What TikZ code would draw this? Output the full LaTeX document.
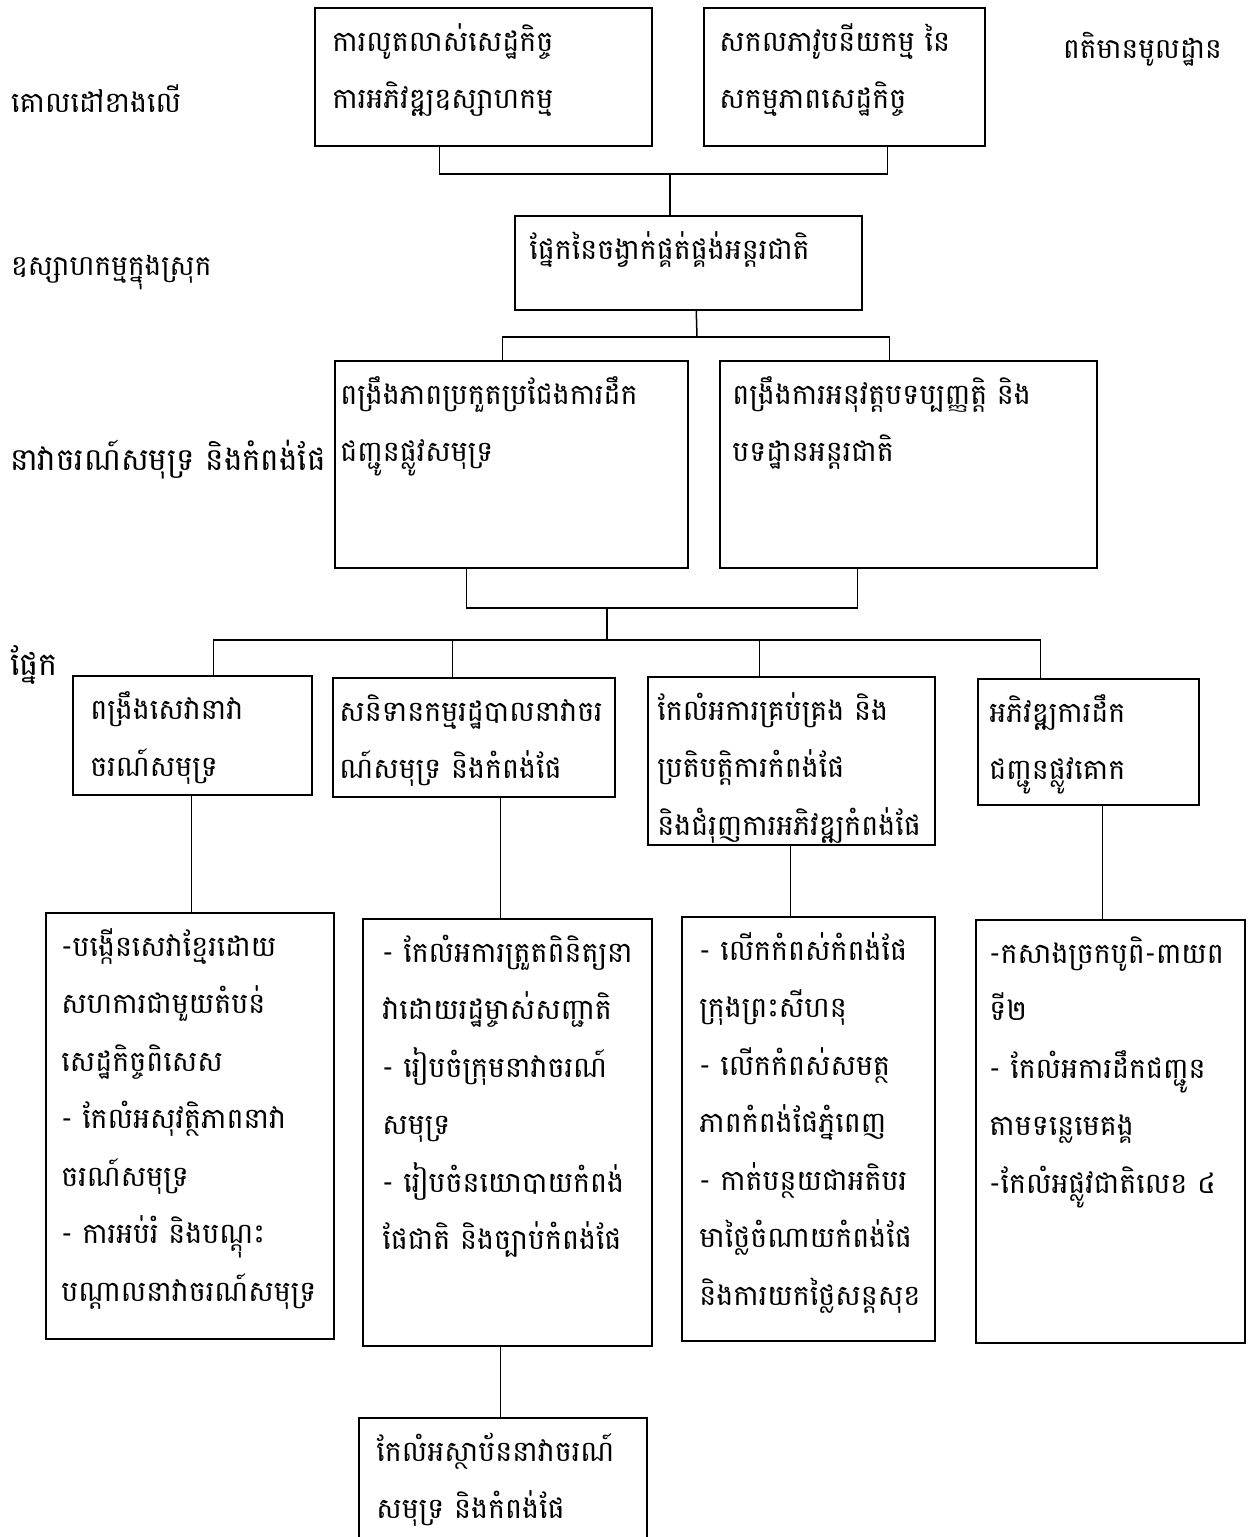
\documentclass[tikz,border=0pt]{standalone}
\usepackage{fontspec}
\newfontfamily\kh[Script=Khmer]{Battambang}
\usetikzlibrary{calc,fit}
\tikzset{
  bx/.style={draw, line width=1.5pt, rectangle, inner sep=0pt},
  ln/.style={line width=1.5pt},
  txt/.style={font=\kh\fontsize{28.5}{32}\selectfont, anchor=base west, inner sep=0pt},
  lbl/.style={anchor=base west, inner sep=0pt},
}
\newcommand\boxtext[3]{%
  \foreach \xx [count=\i] in {#3}{%
    \node[txt] (#1t\i) at ($(#1.north west)+(#2,{44+(\i-1)*57.5})$) {\xx};
  }%
}
\begin{document}
\begin{tikzpicture}[x=1pt,y=-1pt]
\clip (0,0) rectangle (1249,1537);
\fill[white] (0,0) rectangle (1249,1537);
% side labels
\node[lbl, font=\kh\fontsize{28.5}{30}\selectfont] (L1) at (11,112) {គោលដៅខាងលើ};
\node[lbl, font=\kh\fontsize{28}{30}\selectfont] (L2) at (11,275) {ឧស្សាហកម្មក្នុងស្រុក};
\node[lbl, font=\kh\fontsize{31}{34}\selectfont] (L3) at (10,470) {នាវាចរណ៍សមុទ្រ និងកំពង់ផែ};
\node[lbl, font=\kh\fontsize{32}{34}\selectfont] (L4) at (10,675) {ផ្នែក};
\node[lbl, font=\kh\fontsize{28}{30}\selectfont] (R1) at (1063,58) {ពតិមានមូលដ្ឋាន};
% boxes
\node[bx, fit={(315,8) (652,146)}] (A) {};
\node[bx, fit={(704,8) (985,146)}] (B) {};
\node[bx, fit={(515,216) (862,310)}] (C) {};
\node[bx, fit={(335,361) (688,568)}] (D) {};
\node[bx, fit={(720,361) (1097,568)}] (E) {};
\node[bx, fit={(73,676) (312,795)}] (F) {};
\node[bx, fit={(333,678) (615,797)}] (G) {};
\node[bx, fit={(648,677) (935,845)}] (H) {};
\node[bx, fit={(978,679) (1199,805)}] (I) {};
\node[bx, fit={(46,913) (334,1339)}] (J) {};
\node[bx, fit={(363,919) (652,1346)}] (K) {};
\node[bx, fit={(682,917) (935,1341)}] (L) {};
\node[bx, fit={(976,920) (1245,1343)}] (M) {};
\node[bx, fit={(359,1418) (647,1580)}] (N) {};
% texts
\boxtext{A}{18}{ការលូតលាស់សេដ្ឋកិច្ច, ការអភិវឌ្ឍឧស្សាហកម្ម}
\boxtext{B}{16}{សកលភាវូបនីយកម្ម នៃ, សកម្មភាពសេដ្ឋកិច្ច}
\boxtext{C}{15}{ផ្នែកនៃចង្វាក់ផ្គត់ផ្គង់អន្តរជាតិ}
\boxtext{D}{6}{ពង្រឹងភាពប្រកួតប្រជែងការដឹក, ជញ្ជូនផ្លូវសមុទ្រ}
\boxtext{E}{13}{ពង្រឹងការអនុវត្តបទប្បញ្ញត្តិ និង, បទដ្ឋានអន្តរជាតិ}
\boxtext{F}{18}{ពង្រឹងសេវានាវា, ចរណ៍សមុទ្រ}
\boxtext{G}{7}{សនិទានកម្មរដ្ឋបាលនាវាចរ, ណ៍សមុទ្រ និងកំពង់ផែ}
\boxtext{H}{10}{កែលំអការគ្រប់គ្រង និង, ប្រតិបត្តិការកំពង់ផែ, និងជំរុញការអភិវឌ្ឍកំពង់ផែ}
\boxtext{I}{12}{អភិវឌ្ឍការដឹក, ជញ្ជូនផ្លូវគោក}
\boxtext{J}{16}{-បង្កើនសេវាខ្មែរដោយ, សហការជាមួយតំបន់, សេដ្ឋកិច្ចពិសេស, - កែលំអសុវត្ថិភាពនាវា, ចរណ៍សមុទ្រ, - ការអប់រំ និងបណ្តុះ, បណ្តាលនាវាចរណ៍សមុទ្រ}
\boxtext{K}{20}{- កែលំអការត្រួតពិនិត្យនា, វាដោយរដ្ឋម្ចាស់សញ្ជាតិ, - រៀបចំក្រុមនាវាចរណ៍, សមុទ្រ, - រៀបចំនយោបាយកំពង់, ផែជាតិ និងច្បាប់កំពង់ផែ}
\boxtext{L}{18}{- លើកកំពស់កំពង់ផែ, ក្រុងព្រះសីហនុ, - លើកកំពស់សមត្ថ, ភាពកំពង់ផែភ្នំពេញ, - កាត់បន្ថយជាអតិបរ, មាថ្លៃចំណាយកំពង់ផែ, និងការយកថ្លៃសន្តសុខ}
\boxtext{M}{14}{-កសាងច្រកបូពិ-ពាយព, ទី២, - កែលំអការដឹកជញ្ជូន, តាមទន្លេមេគង្គ, -កែលំអផ្លូវជាតិលេខ ៤}
\boxtext{N}{18}{កែលំអស្ថាប័ននាវាចរណ៍, សមុទ្រ និងកំពង់ផែ}
% connectors
\coordinate (Ab) at ([xshift=125pt]A.south west);
\coordinate (Bb) at ([xshift=184pt]B.south west);
\coordinate (j1) at (670,174);
\draw[ln] (Ab) |- (j1) -| (Bb);
\draw[ln] (j1) -- (j1 |- C.north);
\coordinate (Cb) at ([xshift=182pt]C.south west);
\coordinate (j2) at (697,337);
\coordinate (Dt) at ([xshift=168pt]D.north west);
\coordinate (Et) at ([xshift=170pt]E.north west);
\draw[ln] (Cb) -- (j2);
\draw[ln] (Dt) |- (j2) -| (Et);
\coordinate (Db) at ([xshift=132pt]D.south west);
\coordinate (Eb) at ([xshift=138pt]E.south west);
\coordinate (j3) at (607,608);
\draw[ln] (Db) |- (j3) -| (Eb);
\coordinate (j4) at (607,640);
\draw[ln] (j3) -- (j4);
\coordinate (Ft) at ([xshift=141pt]F.north west);
\coordinate (Gt) at ([xshift=120pt]G.north west);
\coordinate (Ht) at ([xshift=112pt]H.north west);
\coordinate (It) at ([xshift=63pt]I.north west);
\draw[ln] (Ft) |- (j4) -| (It);
\draw[ln] (Gt) -- (Gt |- j4);
\draw[ln] (Ht) -- (Ht |- j4);
\coordinate (Fb) at ([xshift=119pt]F.south west);
\draw[ln] (Fb) -- (Fb |- J.north);
\coordinate (Gb) at ([xshift=168pt]G.south west);
\draw[ln] (Gb) -- (Gb |- K.north);
\coordinate (Hb) at ([xshift=143pt]H.south west);
\draw[ln] (Hb) -- (Hb |- L.north);
\coordinate (Ib) at ([xshift=125pt]I.south west);
\draw[ln] (Ib) -- (Ib |- M.north);
\coordinate (Kb) at ([xshift=138pt]K.south west);
\draw[ln] (Kb) -- (Kb |- N.north);
\end{tikzpicture}
\end{document}
